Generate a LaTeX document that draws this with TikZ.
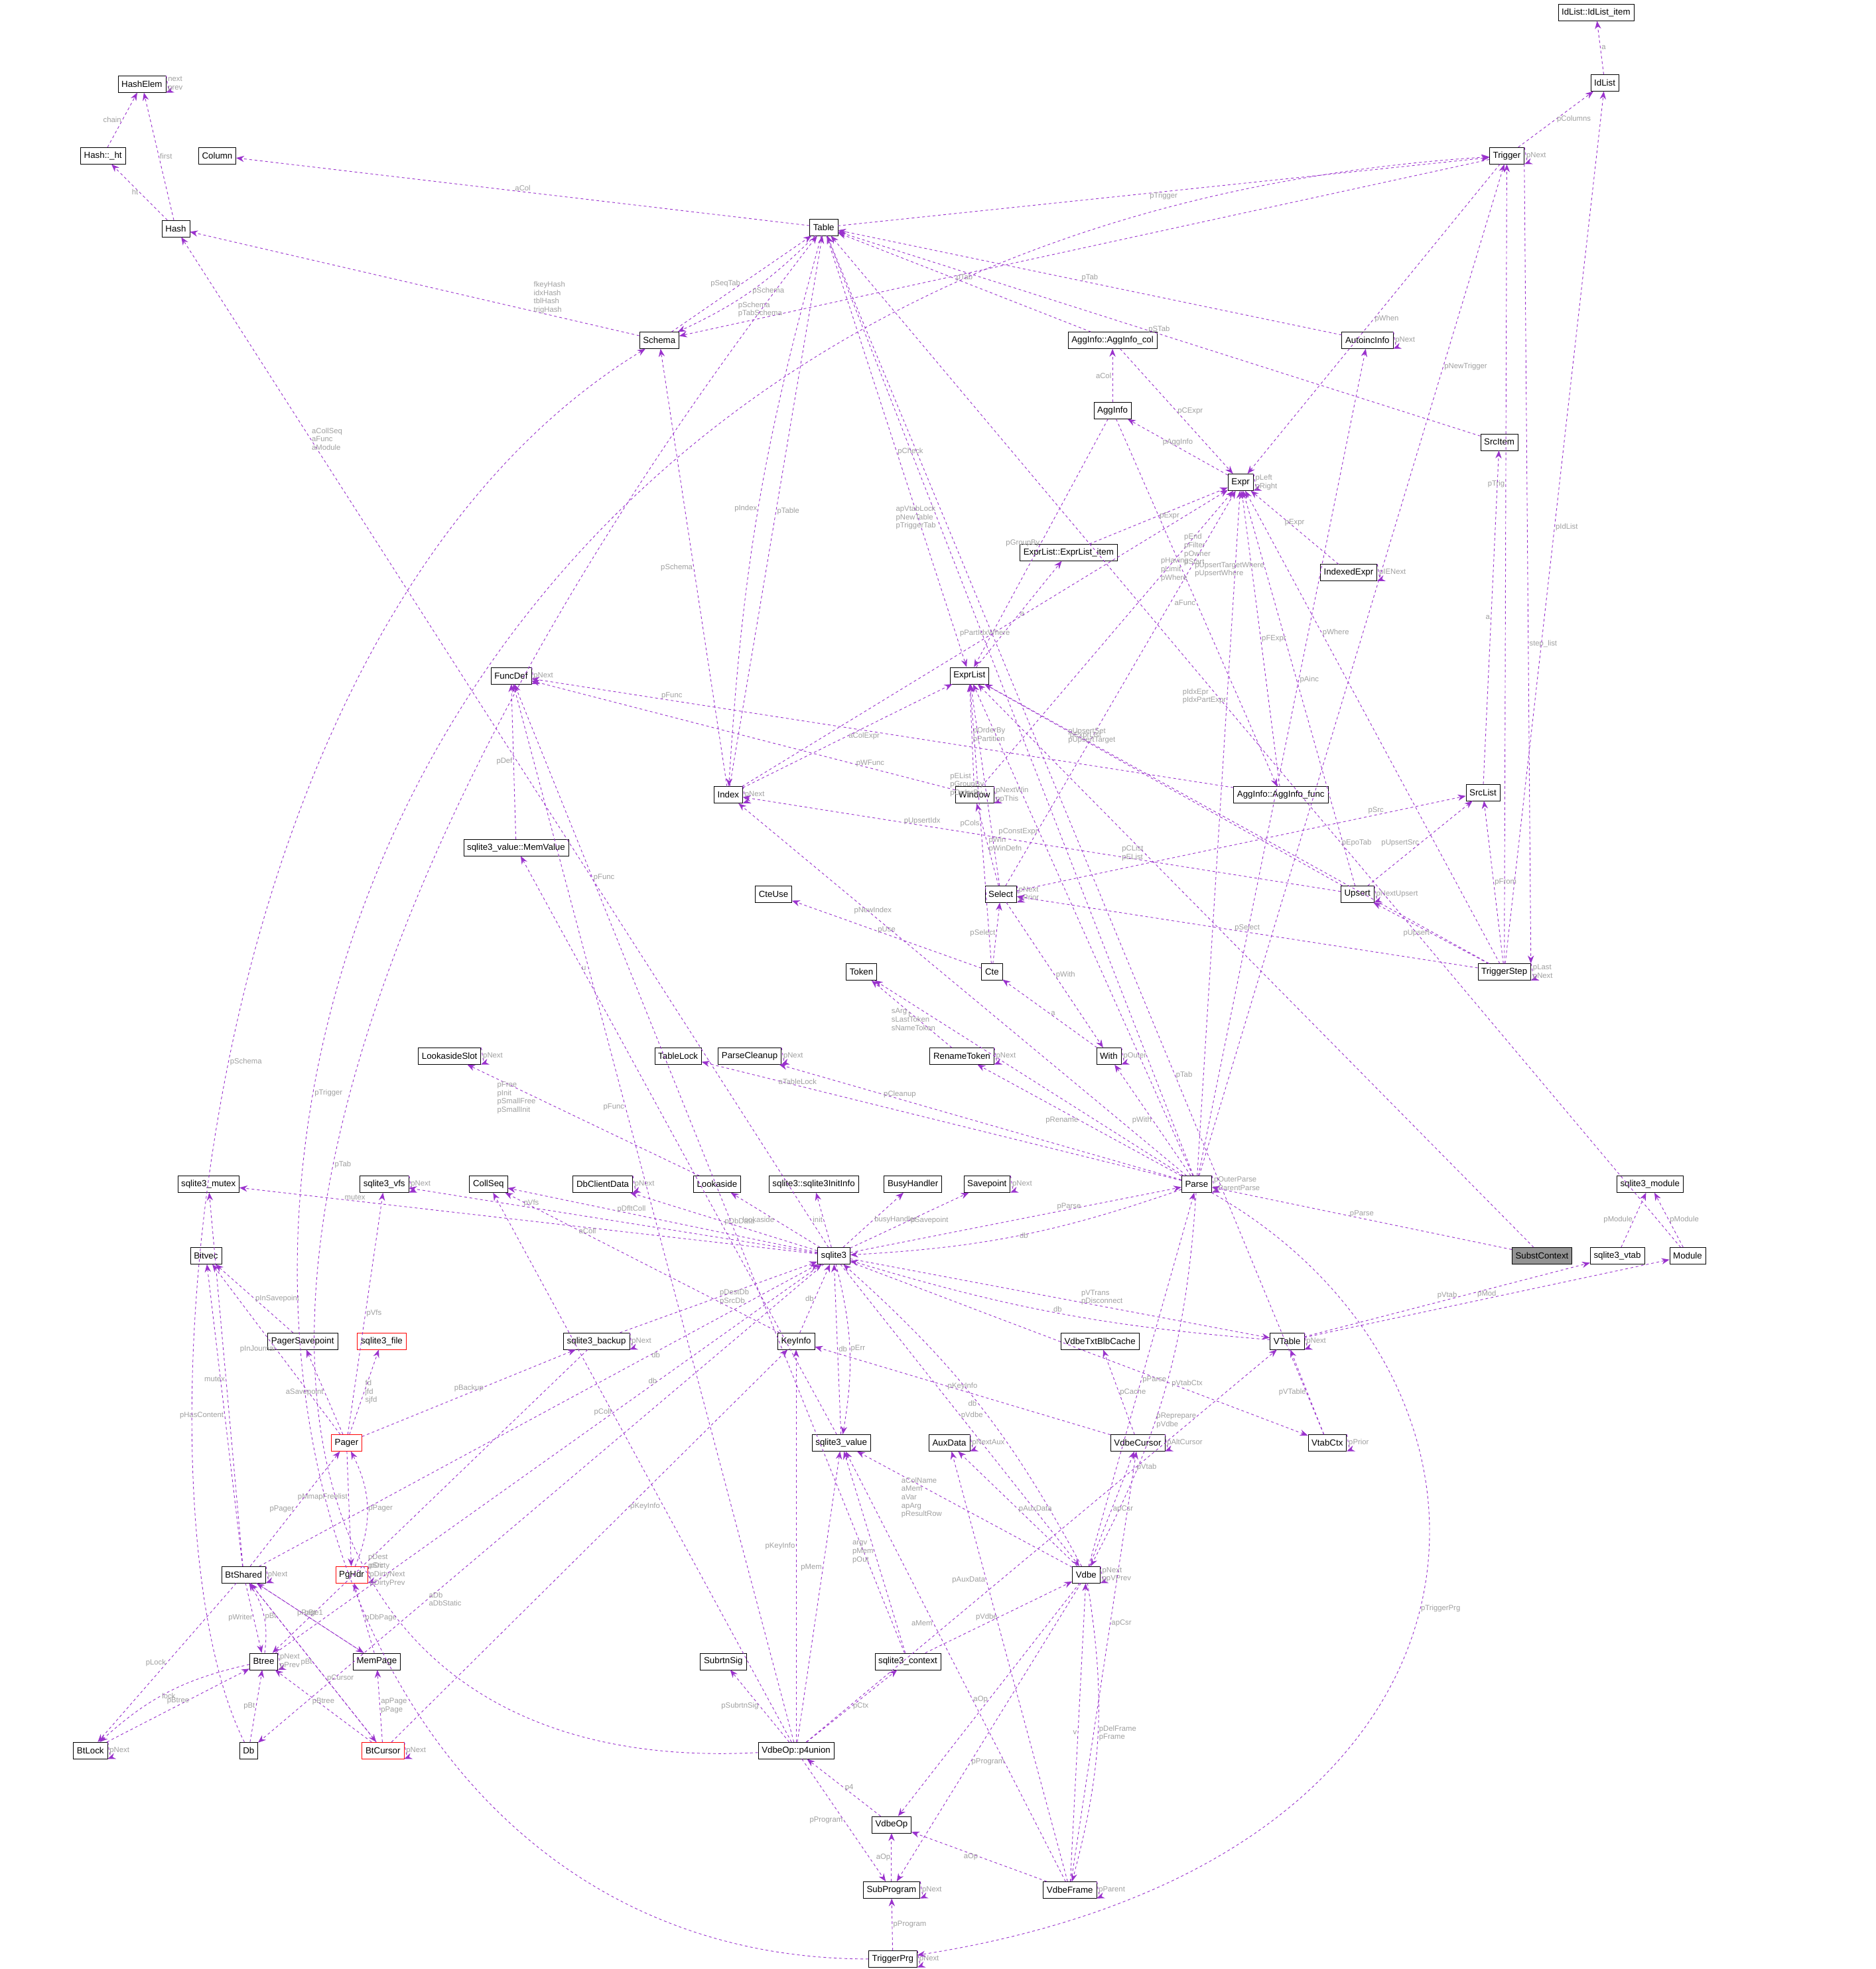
\documentclass[tikz,border=0pt]{standalone}
\usepackage{fontspec}
\setmainfont{Liberation Sans}
\usetikzlibrary{arrows.meta}
\definecolor{ep}{HTML}{9A32CD}
\definecolor{lg}{HTML}{A0A0A0}
\tikzset{
 cls/.style={draw=black,fill=white,inner xsep=4pt,inner ysep=2pt,minimum height=0.66cm,font=\fontsize{10}{11}\selectfont},
 red/.style={draw=red},
 e/.style={draw=ep,dashed,-{Stealth[length=9pt,width=7pt]},line width=0.7pt},
 lb/.style={font=\fontsize{8.5}{9.5}\selectfont,text=lg,align=left,inner sep=1pt}
}
\newcommand{\selfl}[2]{\draw[e] (#1.north east) .. controls +(1.0,0.4) and +(1.0,-0.4) .. (#1.south east) node[lb,pos=0.5,right]{#2};}
\begin{document}
\begin{tikzpicture}[x=0.05cm,y=-0.05cm]
\useasboundingbox[fill=white] (0,0) rectangle (1494,1568);
% nodes
\node[cls] (idli) at (1271,10) {IdList::IdList\_item};
\node[cls] (idl) at (1278,66) {IdList};
\node[cls] (trig) at (1200,124) {Trigger};
\node[cls] (he) at (113,67) {HashElem};
\node[cls] (ht) at (82,124) {Hash::\_ht};
\node[cls] (col) at (173,124) {Column};
\node[cls] (hash) at (140,182) {Hash};
\node[cls] (tab) at (656,181) {Table};
\node[cls] (sch) at (525,271) {Schema};
\node[cls] (aic) at (886,271) {AggInfo::AggInfo\_col};
\node[cls] (auto) at (1089,271) {AutoincInfo};
\node[cls] (agg) at (886,327) {AggInfo};
\node[cls] (sri) at (1194,352) {SrcItem};
\node[cls] (expr) at (988,384) {Expr};
\node[cls] (eli) at (851,440) {ExprList::ExprList\_item};
\node[cls] (iex) at (1074,456) {IndexedExpr};
\node[cls] (fd) at (407,538) {FuncDef};
\node[cls] (el) at (772,538) {ExprList};
\node[cls] (idx) at (580,633) {Index};
\node[cls] (win) at (776,633) {Window};
\node[cls] (aif) at (1020,633) {AggInfo::AggInfo\_func};
\node[cls] (srl) at (1181,631) {SrcList};
\node[cls] (mv) at (411,675) {sqlite3\_value::MemValue};
\node[cls] (sel) at (797,712) {Select};
\node[cls] (ups) at (1081,712) {Upsert};
\node[cls] (cteu) at (616,712) {CteUse};
\node[cls] (tok) at (686,774) {Token};
\node[cls] (cte) at (790,774) {Cte};
\node[cls] (ts) at (1198,774) {TriggerStep};
\node[cls] (las) at (358,841) {LookasideSlot};
\node[cls] (tl) at (540,841) {TableLock};
\node[cls] (pc) at (597,841) {ParseCleanup};
\node[cls] (rt) at (766,841) {RenameToken};
\node[cls] (with) at (883,841) {With};
\node[cls] (mtx) at (166,943) {sqlite3\_mutex};
\node[cls] (vfs) at (306,943) {sqlite3\_vfs};
\node[cls] (cs) at (389,943) {CollSeq};
\node[cls] (dbc) at (480,943) {DbClientData};
\node[cls] (la) at (571,943) {Lookaside};
\node[cls] (ii) at (648,943) {sqlite3::sqlite3InitInfo};
\node[cls] (bh) at (727,943) {BusyHandler};
\node[cls] (sp) at (786,943) {Savepoint};
\node[cls] (parse) at (953,943) {Parse};
\node[cls] (smod) at (1314,943) {sqlite3\_module};
\node[cls,fill=gray!85] (sc) at (1228,1000) {SubstContext};
\node[cls] (svt) at (1288,1000) {sqlite3\_vtab};
\node[cls] (mod) at (1344,1000) {Module};
\node[cls] (db3) at (664,1000) {sqlite3};
\node[cls] (bv) at (164,1000) {Bitvec};
\node[cls] (psp) at (241,1068) {PagerSavepoint};
\node[cls,red] (sf) at (304,1068) {sqlite3\_file};
\node[cls] (bk) at (475,1068) {sqlite3\_backup};
\node[cls] (ki) at (634,1068) {KeyInfo};
\node[cls] (vtb) at (876,1068) {VdbeTxtBlbCache};
\node[cls] (vt) at (1025,1068) {VTable};
\node[cls,red] (pager) at (276,1149) {Pager};
\node[cls] (sv) at (670,1149) {sqlite3\_value};
\node[cls] (aux) at (756,1149) {AuxData};
\node[cls] (vc) at (906,1149) {VdbeCursor};
\node[cls] (vctx) at (1057,1149) {VtabCtx};
\node[cls] (bs) at (194,1254) {BtShared};
\node[cls,red] (pg) at (280,1254) {PgHdr};
\node[cls] (vdbe) at (865,1254) {Vdbe};
\node[cls] (bt) at (210,1323) {Btree};
\node[cls] (mp) at (300,1323) {MemPage};
\node[cls] (ss) at (576,1323) {SubrtnSig};
\node[cls] (ctx) at (723,1323) {sqlite3\_context};
\node[cls] (bl) at (72,1394) {BtLock};
\node[cls] (db) at (198,1394) {Db};
\node[cls,red] (bc) at (305,1394) {BtCursor};
\node[cls] (p4) at (634,1394) {VdbeOp::p4union};
\node[cls] (op) at (710,1453) {VdbeOp};
\node[cls] (sub) at (710,1505) {SubProgram};
\node[cls] (vf) at (852,1505) {VdbeFrame};
\node[cls] (tp) at (711,1560) {TriggerPrg};
% edges
\draw[e] (idl) -- node[lb,right]{a} (idli);
\draw[e] (trig) -- node[lb,right]{pColumns} (idl);
\selfl{trig}{pNext}
\draw[e] (ht) -- node[lb,left]{chain} (he);
\selfl{he}{next\\prev}
\draw[e] (hash) -- node[lb,right]{first} (he);
\draw[e] (hash) -- node[lb,left]{ht} (ht);
\draw[e] (tab) -- node[lb,above]{aCol} (col);
\draw[e] (tab) -- node[lb,below]{pTrigger} (trig);
\draw[e] (trig) -- node[lb,above,pos=0.9]{pSchema\\pTabSchema} (sch);
\draw[e] (tab) to[bend left=10] node[lb,right]{pSchema} (sch);
\draw[e] (sch) -- node[lb,left]{pSeqTab} (tab);
\draw[e] (sch) -- node[lb,above,pos=0.2]{fkeyHash\\idxHash\\tblHash\\trigHash} (hash);
\draw[e] (idx) -- node[lb,right]{pTable} (tab);
\draw[e] (tab) to[bend right=6] node[lb,left]{pIndex} (idx);
\draw[e] (tab) -- node[lb,right]{pCheck} (el);
\draw[e] (aic) -- node[lb,above]{pTab} (tab);
\draw[e] (auto) -- node[lb,above]{pTab} (tab);
\selfl{auto}{pNext}
\draw[e] (sri) -- node[lb,above]{pSTab} (tab);
\draw[e] (agg) -- node[lb,left]{aCol} (aic);
\draw[e] (aic) -- node[lb,right]{pCExpr} (expr);
\draw[e] (expr) -- node[lb,above]{pAggInfo} (agg);
\selfl{expr}{pLeft\\pRight}
\draw[e] (trig) -- node[lb,right]{pWhen} (expr);
\draw[e] (eli) -- node[lb,right]{pExpr} (expr);
\draw[e] (el) -- node[lb,right]{a} (eli);
\draw[e] (agg) -- node[lb,left]{pGroupBy} (el);
\draw[e] (aif) -- node[lb,right]{pFExpr} (expr);
\draw[e] (agg) -- node[lb,left]{aFunc} (aif);
\draw[e] (aif) -- node[lb,above,pos=0.8]{pFunc} (fd);
\draw[e] (iex) -- node[lb,above]{pExpr} (expr);
\selfl{iex}{pIENext}
\draw[e] (idx) -- node[lb,above]{pPartIdxWhere} (expr);
\draw[e] (idx) -- node[lb,right]{aColExpr} (el);
\selfl{idx}{pNext}
\draw[e] (idx) -- node[lb,left]{pSchema} (sch);
\selfl{fd}{pNext}
\draw[e] (win) -- node[lb,above,pos=0.2]{pWFunc} (fd);
\draw[e] (win) -- node[lb,right,pos=0.8]{pEnd\\pFilter\\pOwner\\pStart} (expr);
\draw[e] (win) -- node[lb,right]{pOrderBy\\pPartition} (el);
\selfl{win}{pNextWin\\ppThis}
\draw[e] (mv) -- node[lb,left]{pDef} (fd);
\draw[e] (sel) -- node[lb,left,pos=0.8]{pHaving\\pLimit\\pWhere} (expr);
\draw[e] (sel) -- node[lb,left]{pEList\\pGroupBy\\pOrderBy} (el);
\draw[e] (sel) -- node[lb,right]{pWin\\pWinDefn} (win);
\selfl{sel}{pNext\\pPrior}
\draw[e] (sel) -- node[lb,above,pos=0.8]{pSrc} (srl);
\draw[e] (sel) -- node[lb,right]{pWith} (with);
\draw[e] (cte) -- node[lb,left]{pSelect} (sel);
\draw[e] (cte) -- node[lb,left]{pCols} (el);
\draw[e] (cte) -- node[lb,above]{pUse} (cteu);
\draw[e] (with) -- node[lb,right]{a} (cte);
\selfl{with}{pOuter}
\draw[e] (ups) -- node[lb,left,pos=0.8]{pUpsertTargetWhere\\pUpsertWhere} (expr);
\draw[e] (ups) -- node[lb,above,pos=0.7]{pUpsertSet\\pUpsertTarget} (el);
\draw[e] (ups) -- node[lb,above,pos=0.7]{pUpsertIdx} (idx);
\draw[e] (ups) -- node[lb,left]{pUpsertSrc} (srl);
\selfl{ups}{pNextUpsert}
\draw[e] (srl) -- node[lb,left]{a} (sri);
\draw[e] (ts) -- node[lb,left,pos=0.6]{pTrig} (trig);
\draw[e] (trig.south east) -- node[lb,right,pos=0.6]{step\_list} (ts.north east);
\draw[e] (ts) -- node[lb,right,pos=0.5]{pIdList} (idl);
\draw[e] (ts) -- node[lb,right,pos=0.7]{pWhere} (expr);
\draw[e] (ts) -- node[lb,above,pos=0.8]{pExprList} (el);
\draw[e] (ts) -- node[lb,above]{pSelect} (sel);
\draw[e] (ts) -- node[lb,right]{pFrom} (srl);
\draw[e] (ts) -- node[lb,left]{pUpsert} (ups);
\selfl{ts}{pLast\\pNext}
\draw[e] (rt) -- node[lb,left]{t} (tok);
\selfl{rt}{pNext}
\selfl{las}{pNext}
\selfl{pc}{pNext}
\draw[e] (parse) -- node[lb,left,pos=0.8]{sArg\\sLastToken\\sNameToken} (tok);
\draw[e] (parse) -- node[lb,left,pos=0.7]{apVtabLock\\pNewTable\\pTriggerTab} (tab);
\draw[e] (parse) -- node[lb,right,pos=0.8]{pNewTrigger} (trig);
\draw[e] (parse) -- node[lb,left,pos=0.7]{pIdxEpr\\pIdxPartExpr} (expr);
\draw[e] (parse) -- node[lb,left,pos=0.7]{pConstExpr} (el);
\draw[e] (parse) -- node[lb,above,pos=0.7]{pNewIndex} (idx);
\draw[e] (parse) -- node[lb,left]{pWith} (with);
\draw[e] (parse) -- node[lb,left]{pRename} (rt);
\draw[e] (parse) -- node[lb,above,pos=0.7]{pCleanup} (pc);
\draw[e] (parse) -- node[lb,above,pos=0.8]{aTableLock} (tl);
\draw[e] (parse) -- node[lb,right,pos=0.6]{pAinc} (auto);
\selfl{parse}{pOuterParse\\pParentParse}
\draw[e] (parse) to[bend left=8] node[lb,right]{db} (db3);
\draw[e] (db3) -- node[lb,left,pos=0.7]{pParse} (parse);
\draw[e] (db3) -- node[lb,above,pos=0.8]{mutex} (mtx);
\draw[e] (db3) -- node[lb,above,pos=0.7]{pVfs} (vfs);
\draw[e] (db3) -- node[lb,above,pos=0.6]{pDfltColl} (cs);
\draw[e] (db3) -- node[lb,right]{pDbData} (dbc);
\draw[e] (db3) -- node[lb,left]{lookaside} (la);
\draw[e] (db3) -- node[lb,left]{init} (ii);
\draw[e] (db3) -- node[lb,right]{busyHandler} (bh);
\draw[e] (db3) -- node[lb,right]{pSavepoint} (sp);
\draw[e] (db3) -- node[lb,right,pos=0.8]{aCollSeq\\aFunc\\aModule} (hash);
\draw[e] (db3) -- node[lb,above,pos=0.6]{pVTrans\\pDisconnect} (vt);
\draw[e] (db3) -- node[lb,right,pos=0.5]{pVdbe} (vdbe);
\draw[e] (db3) -- node[lb,right,pos=0.7]{aDb\\aDbStatic} (db);
\draw[e] (ctx) -- node[lb,right,pos=0.8]{pFunc} (fd);
\draw[e] (la) -- node[lb,left,pos=0.7]{pFree\\pInit\\pSmallFree\\pSmallInit} (las);
\selfl{dbc}{pNext}
\selfl{sp}{pNext}
\selfl{vfs}{pNext}
\draw[e] (svt) -- node[lb,left]{pModule} (smod);
\draw[e] (mod) -- node[lb,right]{pModule} (smod);
\draw[e] (vt) -- node[lb,above]{pVtab} (svt);
\draw[e] (vt) to[bend left=6] node[lb,above]{db} (db3);
\draw[e] (vt) -- node[lb,above]{pMod} (mod);
\selfl{vt}{pNext}
\draw[e] (mod) -- node[lb,right,pos=0.4]{pEpoTab} (tab);
\draw[e] (vctx) -- node[lb,left]{pVTable} (vt);
\draw[e] (vctx) -- node[lb,right,pos=0.3]{pTab} (tab);
\selfl{vctx}{pPrior}
\draw[e] (db3) -- node[lb,right,pos=0.7]{pVtabCtx} (vctx);
\draw[e] (sc) -- node[lb,above]{pParse} (parse);
\draw[e] (sc) -- node[lb,left,pos=0.7]{pCList\\pEList} (el);
\draw[e] (pager) -- node[lb,right]{pVfs} (vfs);
\draw[e] (pager) -- node[lb,left]{pInJournal} (bv);
\draw[e] (pager) -- node[lb,left]{aSavepoint} (psp);
\draw[e] (psp) -- node[lb,right]{pInSavepoint} (bv);
\draw[e] (pager) -- node[lb,right]{fd\\jfd\\sjfd} (sf);
\draw[e] (pager) -- node[lb,left,pos=0.4]{pMmapFreelist} (pg);
\draw[e] (pager) -- node[lb,above]{pBackup} (bk);
\draw[e] (pg) to[bend right=25] node[lb,right]{pPager} (pager);
\selfl{pg}{pDirty\\pDirtyNext\\pDirtyPrev}
\draw[e] (bk) -- node[lb,right]{pDestDb\\pSrcDb} (db3);
\selfl{bk}{pNext}
\draw[e] (bk) -- node[lb,right,pos=0.7]{pDest\\pSrc} (bt);
\draw[e] (ki) -- node[lb,left]{db} (db3);
\draw[e] (ki) -- node[lb,above,pos=0.7]{aColl} (cs);
\draw[e] (sv) -- node[lb,right]{db} (db3);
\draw[e] (sv) -- node[lb,above,pos=0.8]{u} (mv);
\draw[e] (db3) to[bend left=12] node[lb,right]{pErr} (sv);
\draw[e] (vc) -- node[lb,above]{pKeyInfo} (ki);
\draw[e] (vc) -- node[lb,right]{pCache} (vtb);
\selfl{vc}{pAltCursor}
\selfl{aux}{pNextAux}
\draw[e] (bs) -- node[lb,left]{mutex} (mtx);
\draw[e] (bs) -- node[lb,left]{pHasContent} (bv);
\draw[e] (bs) -- node[lb,left]{pPager} (pager);
\selfl{bs}{pNext}
\draw[e] (bs) -- node[lb,right,pos=0.7]{db} (db3);
\draw[e] (bs) -- node[lb,left]{pLock} (bl);
\draw[e] (bs) -- node[lb,left]{pWriter} (bt);
\draw[e] (bs) -- node[lb,above]{pPage1} (mp);
\draw[e] (bs) -- node[lb,right,pos=0.6]{pCursor} (bc);
\draw[e] (bt) -- node[lb,left,pos=0.7]{db} (db3);
\draw[e] (bt) to[bend right=20] node[lb,right]{pBt} (bs);
\selfl{bt}{pNext\\pPrev}
\draw[e] (bl) -- node[lb,above]{pBtree} (bt);
\draw[e] (bt) to[bend right=15] node[lb,below]{lock} (bl);
\selfl{bl}{pNext}
\draw[e] (mp) -- node[lb,above]{pBt} (bs);
\draw[e] (mp) -- node[lb,right]{pDbPage} (pg);
\draw[e] (db) -- node[lb,left]{pBt} (bt);
\draw[e] (db) .. controls (100,1200) and (150,500) .. node[lb,right]{pSchema} (sch);
\draw[e] (bc) -- node[lb,left]{pBt} (bs);
\draw[e] (bc) -- node[lb,above]{pBtree} (bt);
\draw[e] (bc) -- node[lb,right]{apPage\\pPage} (mp);
\draw[e] (bc) -- node[lb,right,pos=0.6]{pKeyInfo} (ki);
\selfl{bc}{pNext}
\draw[e] (vdbe) to[bend right=10] node[lb,left,pos=0.5]{db} (db3);
\draw[e] (vdbe) -- node[lb,right]{pParse} (parse);
\draw[e] (parse) to[bend left=12] node[lb,right,pos=0.6]{pReprepare\\pVdbe} (vdbe);
\selfl{vdbe}{pNext\\ppVPrev}
\draw[e] (vdbe) -- node[lb,left,pos=0.6]{aColName\\aMem\\aVar\\apArg\\pResultRow} (sv);
\draw[e] (vdbe) -- node[lb,right]{pAuxData} (aux);
\draw[e] (vdbe) -- node[lb,right]{apCsr} (vc);
\draw[e] (vdbe) -- node[lb,left]{aOp} (op);
\draw[e] (vdbe) -- node[lb,right,pos=0.6]{pProgram} (sub);
\draw[e] (vdbe) to[bend left=12] node[lb,right]{pDelFrame\\pFrame} (vf);
\draw[e] (ctx) -- node[lb,left]{pVdbe} (vdbe);
\draw[e] (ctx) -- node[lb,left]{argv\\pMem\\pOut} (sv);
\draw[e] (p4) -- node[lb,left,pos=0.6]{pFunc} (fd);
\draw[e] (p4) -- node[lb,left,pos=0.6]{pColl} (cs);
\draw[e] (p4) -- node[lb,left,pos=0.5]{pKeyInfo} (ki);
\draw[e] (p4) -- node[lb,left,pos=0.6]{pMem} (sv);
\draw[e] (p4) -- node[lb,left]{pSubrtnSig} (ss);
\draw[e] (p4) -- node[lb,right]{pCtx} (ctx);
\draw[e] (p4) -- node[lb,right,pos=0.7]{pVtab} (vt);
\draw[e] (p4) .. controls (150,1420) and (100,900) .. node[lb,right,pos=0.6]{pTab} (tab);
\draw[e] (p4) -- node[lb,left]{pProgram} (sub);
\draw[e] (op) -- node[lb,right]{p4} (p4);
\draw[e] (vf) -- node[lb,left]{v} (vdbe);
\draw[e] (vf) -- node[lb,left]{aOp} (op);
\draw[e] (vf) -- node[lb,left,pos=0.6]{aMem} (sv);
\draw[e] (vf) -- node[lb,left,pos=0.7]{pAuxData} (aux);
\draw[e] (vf) -- node[lb,right,pos=0.6]{apCsr} (vc);
\selfl{vf}{pParent}
\draw[e] (sub) -- node[lb,left]{aOp} (op);
\selfl{sub}{pNext}
\draw[e] (tp) -- node[lb,right]{pProgram} (sub);
\draw[e] (tp) .. controls (20,1560) and (20,200) .. node[lb,right,pos=0.5]{pTrigger} (trig);
\selfl{tp}{pNext}
\draw[e] (parse) .. controls (1230,1100) and (1220,1480) .. node[lb,right]{pTriggerPrg} (tp);
\end{tikzpicture}
\end{document}
